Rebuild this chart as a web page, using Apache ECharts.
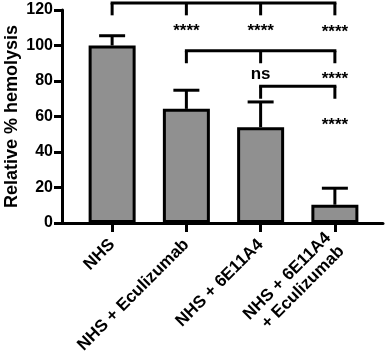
<!DOCTYPE html>
<html>
<head>
<meta charset="utf-8">
<script src="https://cdn.jsdelivr.net/npm/echarts@6/dist/echarts.min.js"></script>
<style>
  html, body { margin: 0; padding: 0; background: #fff; }
  #chart { width: 385px; height: 355px; }
</style>
</head>
<body>
<div id="chart"></div>
<script>
// groups on the x axis
const groups = ['NHS', 'NHS + Eculizumab', 'NHS + 6E11A4', 'NHS + 6E11A4\n+ Eculizumab'];
// mean relative hemolysis and top of the error bar (mean + SD)
const means = [100, 64.3, 54, 10.3];
const errTops = [105.5, 74.8, 68.2, 19.6];
const yTicks = [0, 20, 40, 60, 80, 100, 120];

// significance brackets: level (y), which groups get a drop
const bracketLevels = [124, 97, 77];
const bracketDrops = [[0, 1, 2, 3], [1, 2, 3], [2, 3]];
const dropLen = 7;
// significance marks: [group, y, text]
const sigMarks = [
  [1, 111, '****'], [2, 111, '****'], [3, 110.5, '****'],
  [2, 84, 'ns'], [3, 84, '****'],
  [3, 58, '****']
];

const FONT = 'Liberation Sans, Arial, sans-serif';
const chart = echarts.init(document.getElementById('chart'));

chart.setOption({
  animation: false,
  grid: [
    { left: 62, right: 2, top: 10, bottom: 132, outerBoundsMode: 'none', containLabel: false },
    { left: 75, right: 13, top: 10, bottom: 132, outerBoundsMode: 'none', containLabel: false }
  ],
  xAxis: [
    {
      gridIndex: 0, type: 'value', min: 0, max: 1,
      axisLine: { show: true, lineStyle: { color: '#000', width: 3 } },
      axisTick: { show: false }, axisLabel: { show: false }, splitLine: { show: false }
    },
    {
      gridIndex: 1, type: 'category', data: groups,
      axisLine: { show: false },
      axisTick: { show: true, alignWithLabel: true, length: 9, lineStyle: { color: '#000', width: 3 } },
      axisLabel: {
        rotate: 45, margin: 19, interval: 0, color: '#000',
        fontFamily: FONT, fontWeight: 'bold', fontSize: 17, align: 'right', lineHeight: 19
      }
    }
  ],
  yAxis: [
    {
      gridIndex: 0, type: 'value', min: 0, max: 120, interval: 20,
      name: 'Relative % hemolysis', nameLocation: 'middle', nameGap: 41, nameMoveOverlap: false,
      nameTextStyle: { fontFamily: FONT, fontWeight: 'bold', fontSize: 18, color: '#000' },
      axisLine: { show: true, lineStyle: { color: '#000', width: 3 } },
      axisTick: { show: true, length: 8, lineStyle: { color: '#000', width: 3 } },
      axisLabel: {
        color: '#000', fontFamily: FONT, fontWeight: 'bold', fontSize: 16, margin: 9,
        formatter: v => (yTicks.indexOf(v) >= 0 ? String(v) : '')
      },
      splitLine: { show: false }
    },
    { gridIndex: 1, type: 'value', min: 0, max: 120, show: false }
  ],
  series: [
    {
      type: 'bar', xAxisIndex: 1, yAxisIndex: 1,
      data: means, barWidth: 47,
      itemStyle: { color: '#909090', borderColor: '#000', borderWidth: 3 },
      z: 3
    },
    {
      // error bars, upper half only
      type: 'custom', xAxisIndex: 1, yAxisIndex: 1, z: 2,
      data: means.map((m, i) => [i, m, errTops[i]]),
      renderItem: (params, api) => {
        const base = api.coord([api.value(0), api.value(1)]);
        const top = api.coord([api.value(0), api.value(2)]);
        const style = { stroke: '#000', lineWidth: 3 };
        return {
          type: 'group',
          children: [
            { type: 'line', shape: { x1: base[0], y1: base[1], x2: top[0], y2: top[1] }, style },
            { type: 'line', shape: { x1: top[0] - 13, y1: top[1], x2: top[0] + 13, y2: top[1] }, style }
          ]
        };
      }
    },
    {
      // comparison brackets
      type: 'custom', xAxisIndex: 1, yAxisIndex: 1, clip: false,
      data: bracketLevels.map((lv, i) => [i, lv]),
      renderItem: (params, api) => {
        const idx = params.dataIndex;
        const lv = bracketLevels[idx];
        const drops = bracketDrops[idx];
        const style = { stroke: '#000', lineWidth: 3, fill: null };
        const left = api.coord([drops[0], lv]);
        const right = api.coord([drops[drops.length - 1], lv]);
        const children = [
          { type: 'line', shape: { x1: left[0] - 1.5, y1: left[1], x2: right[0] + 1.5, y2: right[1] }, style }
        ];
        drops.forEach(d => {
          const a = api.coord([d, lv]);
          const b = api.coord([d, lv - dropLen]);
          children.push({ type: 'line', shape: { x1: a[0], y1: a[1], x2: b[0], y2: b[1] }, style });
        });
        return { type: 'group', children };
      }
    },
    {
      // significance text
      type: 'custom', xAxisIndex: 1, yAxisIndex: 1, clip: false,
      data: sigMarks,
      renderItem: (params, api) => {
        const p = api.coord([api.value(0), api.value(1)]);
        const txt = sigMarks[params.dataIndex][2];
        const star = txt !== 'ns';
        return {
          type: 'text',
          x: p[0], y: p[1] + (star ? 5 : 0),
          style: {
            text: txt, fill: '#000', align: 'center', verticalAlign: 'middle',
            font: 'bold 17px ' + FONT
          }
        };
      }
    }
  ]
});
</script>
</body>
</html>
